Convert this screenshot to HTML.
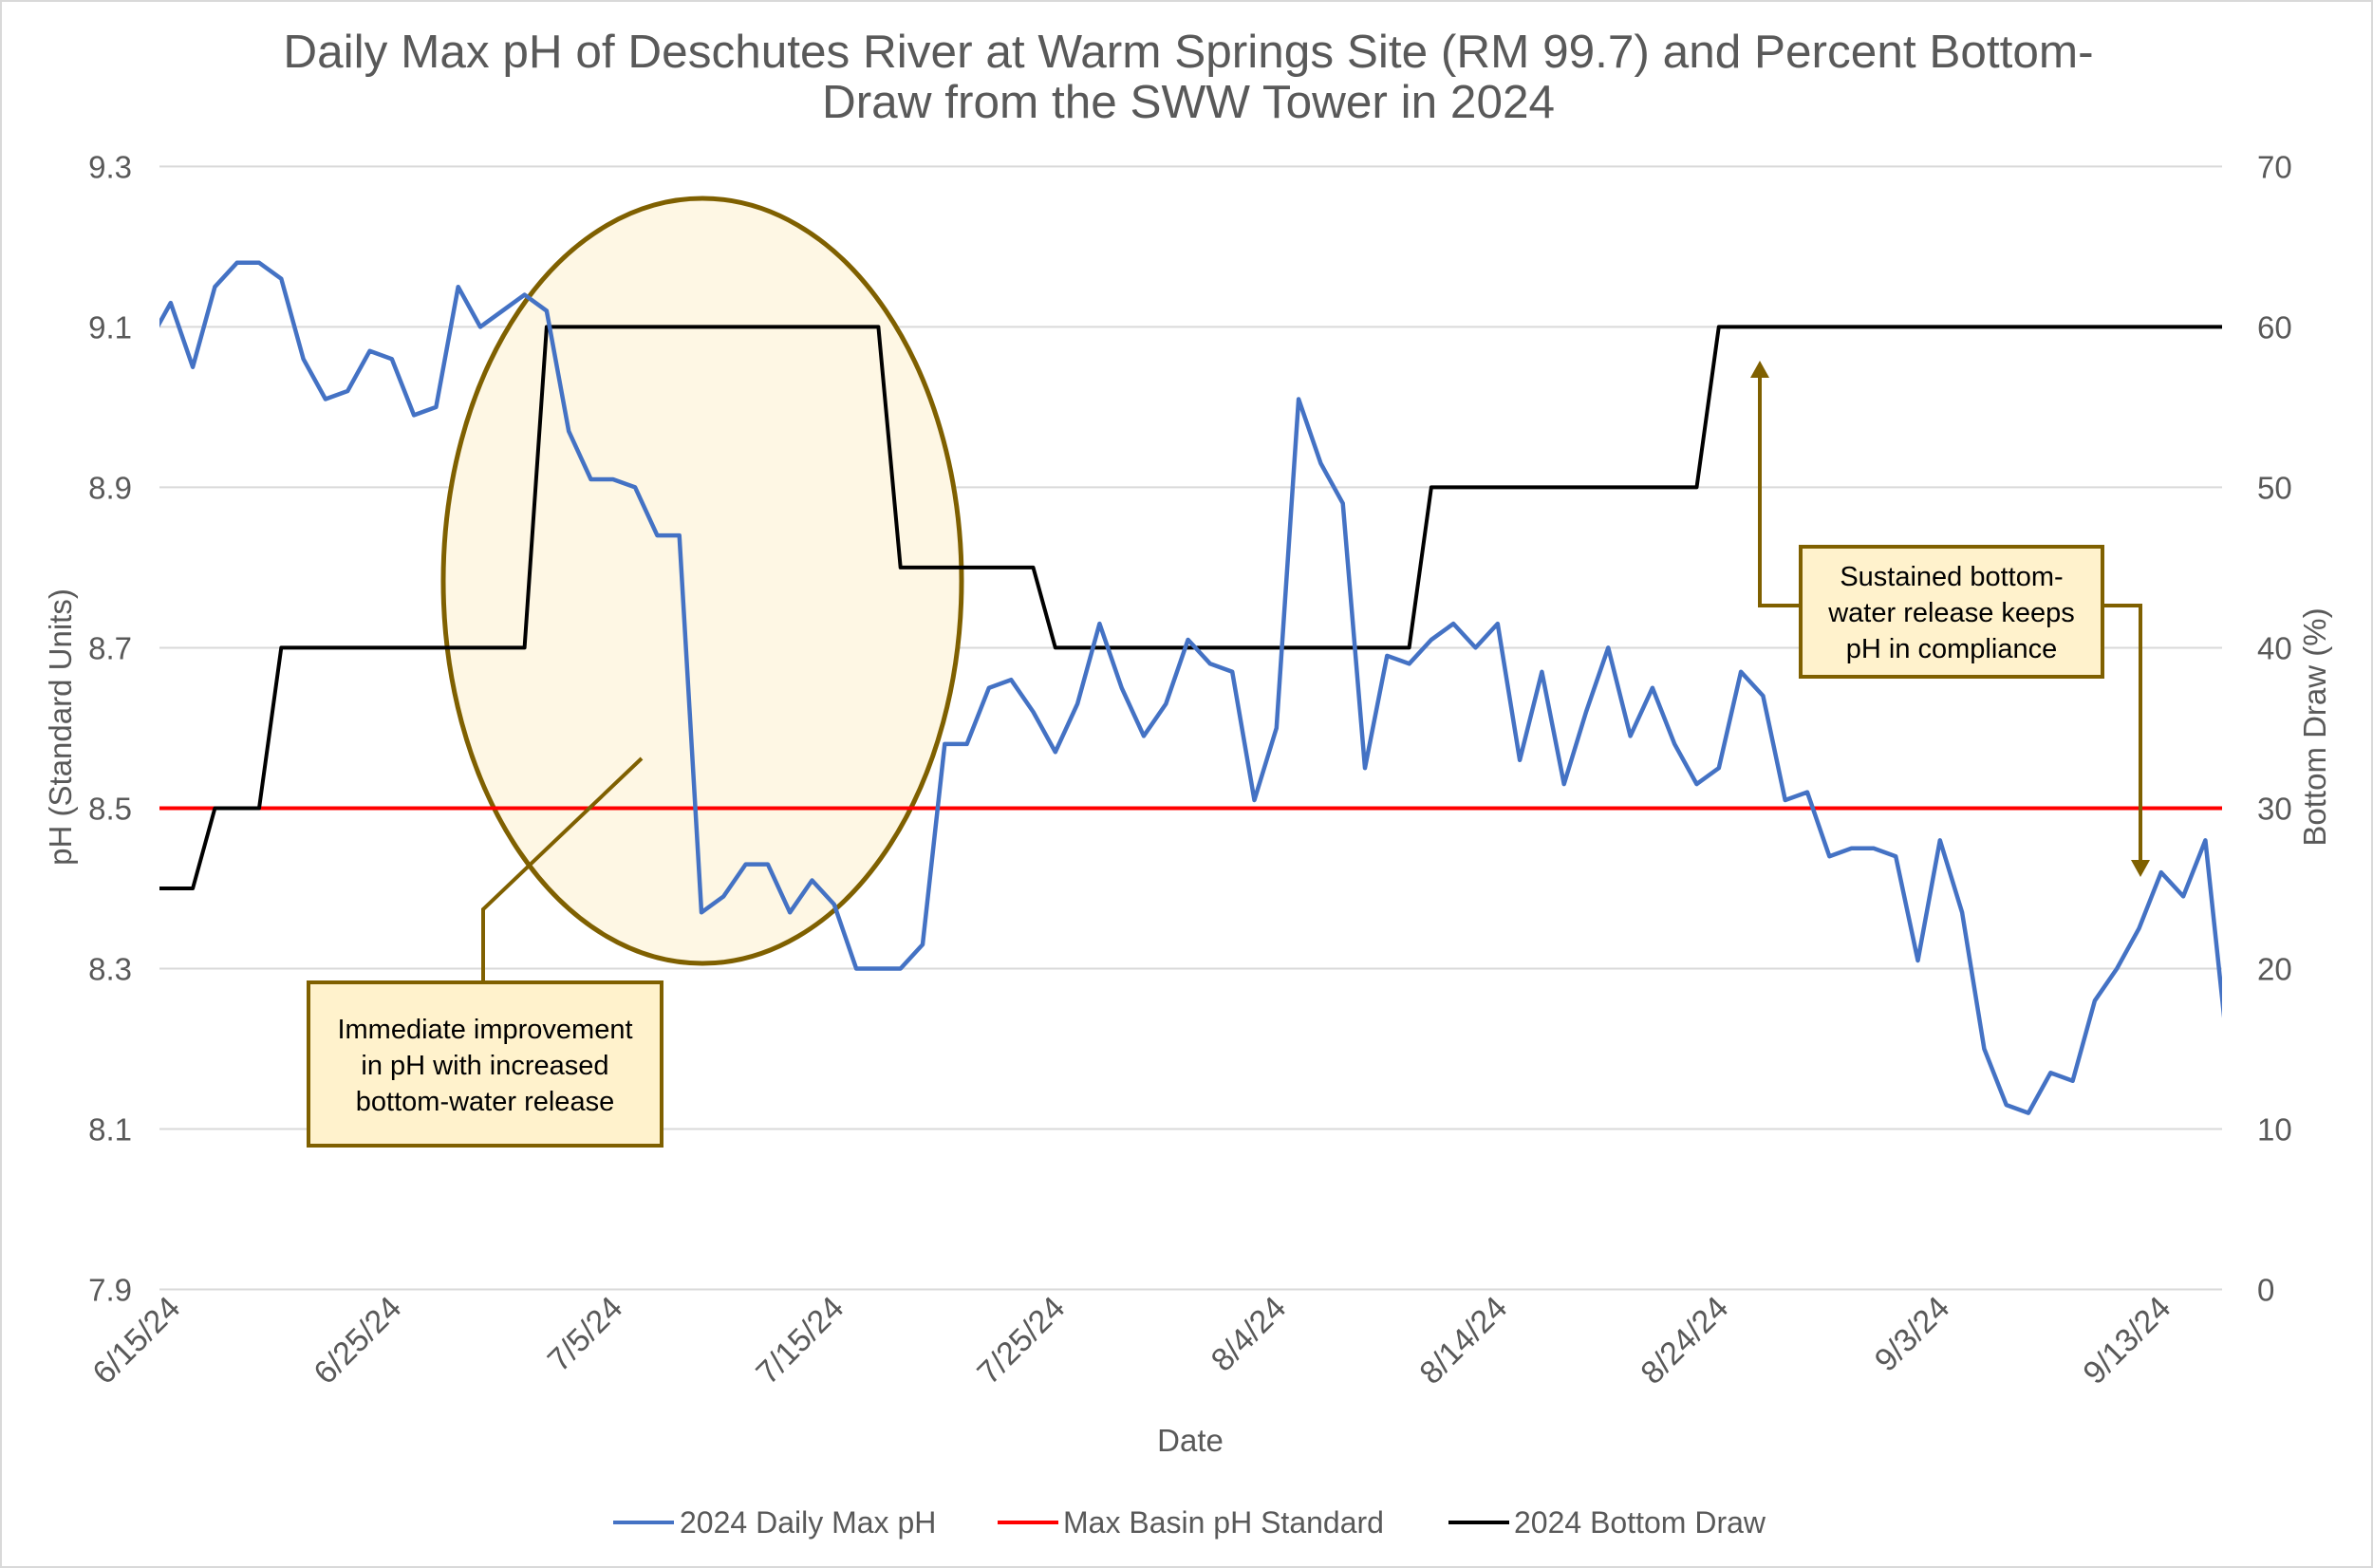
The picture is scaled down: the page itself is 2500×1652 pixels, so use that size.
<!DOCTYPE html>
<html><head><meta charset="utf-8">
<style>
html,body{margin:0;padding:0;background:#fff;}
svg{display:block;font-family:"Liberation Sans",sans-serif;}
</style></head>
<body>
<svg id="chart" width="2500" height="1652" viewBox="0 0 2500 1652" xmlns="http://www.w3.org/2000/svg">
<rect x="1" y="1" width="2498" height="1650" fill="#fff" stroke="#d9d9d9" stroke-width="2"/>
<text x="1252" y="71" text-anchor="middle" font-size="49.5" fill="#595959">Daily Max pH of Deschutes River at Warm Springs Site (RM 99.7) and Percent Bottom-</text>
<text x="1252" y="124" text-anchor="middle" font-size="49.5" fill="#595959">Draw from the SWW Tower in 2024</text>
<defs><clipPath id="plotclip"><rect x="168" y="150" width="2173" height="1230"/></clipPath></defs>
<g id="grid"></g>
<ellipse cx="740" cy="612" rx="273" ry="403" fill="#fef7e4" stroke="#7f6000" stroke-width="5"/>
<g id="series" clip-path="url(#plotclip)"></g>
<g id="axes"></g>
<text transform="translate(75,766) rotate(-90)" text-anchor="middle" font-size="33" fill="#595959">pH (Standard Units)</text>
<text transform="translate(2450,766) rotate(-90)" text-anchor="middle" font-size="33" fill="#595959">Bottom Draw (%)</text>
<text x="1254" y="1529" text-anchor="middle" font-size="33" fill="#595959">Date</text>
<!-- callout 1 -->
<polyline points="509,1035 509,958 676,799" fill="none" stroke="#7f6000" stroke-width="4"/>
<rect x="325" y="1035" width="372" height="172" fill="#fff2cc" stroke="#7f6000" stroke-width="4"/>
<g font-size="29" fill="#000" text-anchor="middle">
<text x="511" y="1094">Immediate improvement</text>
<text x="511" y="1132">in pH with increased</text>
<text x="511" y="1170">bottom-water release</text>
</g>
<!-- callout 2 -->
<polyline points="1897,638 1854,638 1854,395" fill="none" stroke="#7f6000" stroke-width="4"/>
<polygon points="1854,380 1844,398 1864,398" fill="#7f6000"/>
<polyline points="2215,638 2255,638 2255,910" fill="none" stroke="#7f6000" stroke-width="4"/>
<polygon points="2255,924 2245,906 2265,906" fill="#7f6000"/>
<rect x="1897" y="576" width="318" height="137" fill="#fff2cc" stroke="#7f6000" stroke-width="4"/>
<g font-size="29" fill="#000" text-anchor="middle">
<text x="2056" y="617">Sustained bottom-</text>
<text x="2056" y="655">water release keeps</text>
<text x="2056" y="693">pH in compliance</text>
</g>
<!-- legend -->
<g font-size="32" fill="#595959">
<line x1="646" y1="1604" x2="710" y2="1604" stroke="#4472c4" stroke-width="4"/>
<text x="716" y="1615">2024 Daily Max pH</text>
<line x1="1051" y1="1604" x2="1115" y2="1604" stroke="#ff0000" stroke-width="4"/>
<text x="1120" y="1615">Max Basin pH Standard</text>
<line x1="1526" y1="1604" x2="1590" y2="1604" stroke="#000" stroke-width="4"/>
<text x="1595" y="1615">2024 Bottom Draw</text>
</g>
</svg>
<script>
// data: index 0 = 6/14/24, one value per day
const startDate = [2024, 6, 14];
const phValues = [9.08,9.13,9.05,9.15,9.18,9.18,9.16,9.06,9.01,9.02,9.07,9.06,8.99,9.00,9.15,9.10,9.12,9.14,9.12,8.97,8.91,8.91,8.90,8.84,8.84,8.37,8.39,8.43,8.43,8.37,8.41,8.38,8.30,8.30,8.30,8.33,8.58,8.58,8.65,8.66,8.62,8.57,8.63,8.73,8.65,8.59,8.63,8.71,8.68,8.67,8.51,8.60,9.01,8.93,8.88,8.55,8.69,8.68,8.71,8.73,8.70,8.73,8.56,8.67,8.53,8.62,8.70,8.59,8.65,8.58,8.53,8.55,8.67,8.64,8.51,8.52,8.44,8.45,8.45,8.44,8.31,8.46,8.37,8.20,8.13,8.12,8.17,8.16,8.26,8.30,8.35,8.42,8.39,8.46,8.20];
const drawValues = [25,25,25,30,30,30,40,40,40,40,40,40,40,40,40,40,40,40,60,60,60,60,60,60,60,60,60,60,60,60,60,60,60,60,45,45,45,45,45,45,45,40,40,40,40,40,40,40,40,40,40,40,40,40,40,40,40,40,50,50,50,50,50,50,50,50,50,50,50,50,50,60,60,60,60,60,60,60,60,60,60,60,60,60,60,60,60,60,60,60,60,60,60,60,60];
const phStandard = 8.5;
const leftTicks = [7.9,8.1,8.3,8.5,8.7,8.9,9.1,9.3];
const rightTicks = [0,10,20,30,40,50,60,70];
const xTickIndex = [1,11,21,31,41,51,61,71,81,91];
const xTickLabels = ["6/15/24","6/25/24","7/5/24","7/15/24","7/25/24","8/4/24","8/14/24","8/24/24","9/3/24","9/13/24"];

const NS = "http://www.w3.org/2000/svg";
const X0 = 156.5, DX = 23.3, PL = 168, PR = 2341;
const YT = 175.4, YB = 1358.5;
function xs(i){ return X0 + DX*i; }
function yPh(v){ return YT + (9.3 - v)/1.4*(YB-YT); }
function yDraw(v){ return YB - v/70*(YB-YT); }
function mk(tag, attrs, parent){ const e=document.createElementNS(NS,tag); for(const k in attrs) e.setAttribute(k, attrs[k]); parent.appendChild(e); return e; }

const grid = document.getElementById('grid');
const axes = document.getElementById('axes');
const series = document.getElementById('series');

leftTicks.forEach((t,i)=>{
  const y = yPh(t);
  const gl = mk('line',{x1:PL,x2:PR,y1:y,y2:y,stroke:'#d9d9d9','stroke-width':2},grid);
  
  
  const lt = mk('text',{x:139,y:y+12,'text-anchor':'end','font-size':33,fill:'#595959'},axes);
  lt.textContent = t.toFixed(1);
  
  
});
rightTicks.forEach(t=>{
  const y = yDraw(t);
  const rt = mk('text',{x:2378,y:y+12,'text-anchor':'start','font-size':33,fill:'#595959'},axes);
  rt.textContent = String(t);
  
  
});
xTickIndex.forEach((k,i)=>{
  const x = xs(k);
  const xt = mk('text',{transform:`translate(${x+12},1380) rotate(-45)`,'text-anchor':'end','font-size':34,fill:'#595959'},axes);
  xt.textContent = xTickLabels[i];
  
  
});

const stdY = yPh(phStandard);
const std = mk('line',{x1:PL,x2:PR,y1:stdY,y2:stdY,stroke:'#ff0000','stroke-width':4},series);



const dPts = drawValues.map((v,i)=>xs(i).toFixed(1)+','+yDraw(v).toFixed(1)).join(' ');
const dl = mk('polyline',{points:dPts,fill:'none',stroke:'#000','stroke-width':4,'stroke-linejoin':'round'},series);



const pPts = phValues.map((v,i)=>xs(i).toFixed(1)+','+yPh(v).toFixed(1)).join(' ');
const pl = mk('polyline',{points:pPts,fill:'none',stroke:'#4472c4','stroke-width':4.5,'stroke-linejoin':'round'},series);


</script>
</body></html>
